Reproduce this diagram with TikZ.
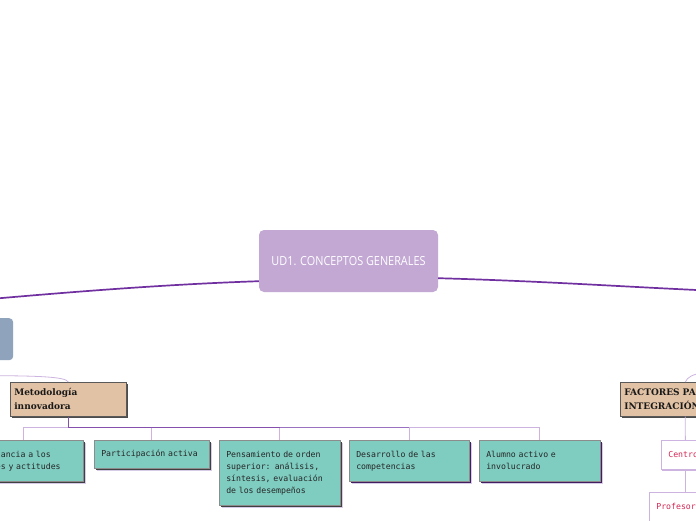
\documentclass[tikz,border=0pt]{standalone}
\usepackage{fontspec}
\setmainfont{DejaVu Serif}
\newfontfamily\headfont[FakeStretch=0.87]{Open Sans}
\newfontfamily\monofont{DejaVu Sans Mono}
\newfontfamily\slabfont{DejaVu Serif}
\usetikzlibrary{shadows,calc}
\definecolor{rootc}{HTML}{C2A8D3}
\definecolor{mainc}{HTML}{7030A0}
\definecolor{midc}{HTML}{9A70C0}
\definecolor{litec}{HTML}{CDB4E0}
\definecolor{grayc}{HTML}{8FA3BC}
\definecolor{tanc}{HTML}{E2C2A4}
\definecolor{tealc}{HTML}{7FCDC1}
\definecolor{crimc}{HTML}{D62754}
\definecolor{glowc}{HTML}{D6CCE8}
\tikzset{
  rootbox/.style={fill=rootc, rounded corners=5pt, minimum width=179, minimum height=62,
    text=white, font=\headfont\fontsize{12.5}{14}\selectfont, inner sep=0pt},
  graybox/.style={fill=grayc, rounded corners=4pt, anchor=north west, minimum width=33, minimum height=42},
  tanbox/.style={fill=tanc, draw=black!65, line width=0.6pt, anchor=north west, inner xsep=4pt, inner ysep=0pt,
    align=left, font=\slabfont\bfseries\fontsize{9}{14}\selectfont, text=black!90,
    general shadow={shadow xshift=2pt, shadow yshift=-2pt, fill=black!70}},
  tealbox/.style={fill=tealc, draw=black!45, line width=0.5pt, anchor=north west, inner xsep=7pt, inner ysep=0pt,
    align=left, font=\monofont\fontsize{8.2}{12}\selectfont, text=black!85,
    general shadow={shadow xshift=3pt, shadow yshift=-3pt, fill=glowc},
    general shadow={shadow xshift=1.5pt, shadow yshift=-1.5pt, fill=#1}},
  tealbox/.default={black!75},
  whitebox/.style={fill=white, draw=litec, line width=0.7pt, anchor=north west, inner xsep=7pt, inner ysep=0pt,
    align=left, font=\monofont\fontsize{8.2}{12}\selectfont, text=crimc,
    general shadow={shadow xshift=1pt, shadow yshift=-1.5pt, fill=litec}},
  mainline/.style={draw=mainc, line width=1.7pt},
  liteline/.style={draw=litec, line width=0.8pt},
  darkline/.style={draw=mainc!85, line width=1pt},
  medline/.style={draw=midc, line width=0.9pt},
}
\begin{document}
\begin{tikzpicture}[x=1pt,y=-1pt]
\useasboundingbox (0,0) rectangle (696,520);
\clip (0,0) rectangle (696,520);
\fill[white] (0,0) rectangle (696,520);
% nodes
\node[rootbox] (c) at (348.5,261) {UD1. CONCEPTOS GENERALES};
\node[graybox] (g) at (-20,318) {};
\node[tanbox, text width=108, minimum height=34] (m) at (10,382) {Metodología\\innovadora};
\node[tanbox, text width=122, minimum height=34] (f) at (620,382) {FACTORES PARA LA\\INTEGRACIÓN};
\node[tealbox, text width=105, minimum height=41] (b1) at (-36,440) {Importancia a los\\valores y actitudes};
\node[tealbox, text width=101, minimum height=28] (b2) at (94,440) {Participación activa};
\node[tealbox, text width=107, minimum height=65] (b3) at (219,440) {Pensamiento de orden\\superior: análisis,\\síntesis, evaluación\\de los desempeños};
\node[tealbox={mainc!60!black}, text width=106, minimum height=41] (b4) at (349,440) {Desarrollo de las\\competencias};
\node[tealbox={mainc!60!black}, text width=107, minimum height=41] (b5) at (479,440) {Alumno activo e\\involucrado};
\node[whitebox, text width=34, minimum height=29] (ce) at (661,440) {Centro};
\node[whitebox, text width=58, minimum height=29] (pr) at (649,492) {Profesorado};
% free ends
\coordinate (lend) at (-5,298.6);
\coordinate (rend) at (701,290.2);
\coordinate (gend) at (-5,375.6);
\coordinate (fend) at (702,373);
\coordinate (j) at ($(m.south)+(0,11)$);
% connectors
\draw[mainline] ($(c.south west)+(0,-11)$) .. controls (160,284.5) and (60,293) .. (lend);
\draw[mainline] ($(c.south east)+(0,-14)$) .. controls (540,281) and (620,286.5) .. (rend);
\draw[liteline] (gend) .. controls (35,376) and (66,376.5) .. (m.north);
\draw[liteline] (f.north) .. controls (687,377) and (694,374) .. (fend);
\draw[darkline] (m.south) -- (j) -- (j -| b3.north);
\draw[medline] (j -| b3.north) -- (j -| b4.north);
\draw[liteline] (j -| b4.north) -- (j -| b5.north);
\draw[liteline] (j) -- (j -| b1.north) -- (b1.north);
\draw[liteline] (j -| b2.north) -- (b2.north);
\draw[liteline] (j -| b3.north) -- (b3.north);
\draw[liteline] (j -| b4.north) -- (b4.north);
\draw[liteline] (j -| b5.north) -- (b5.north);
\draw[liteline] (f.south) -- (ce.north);
\draw[liteline] (ce.south) -- (pr.north);
\end{tikzpicture}
\end{document}
